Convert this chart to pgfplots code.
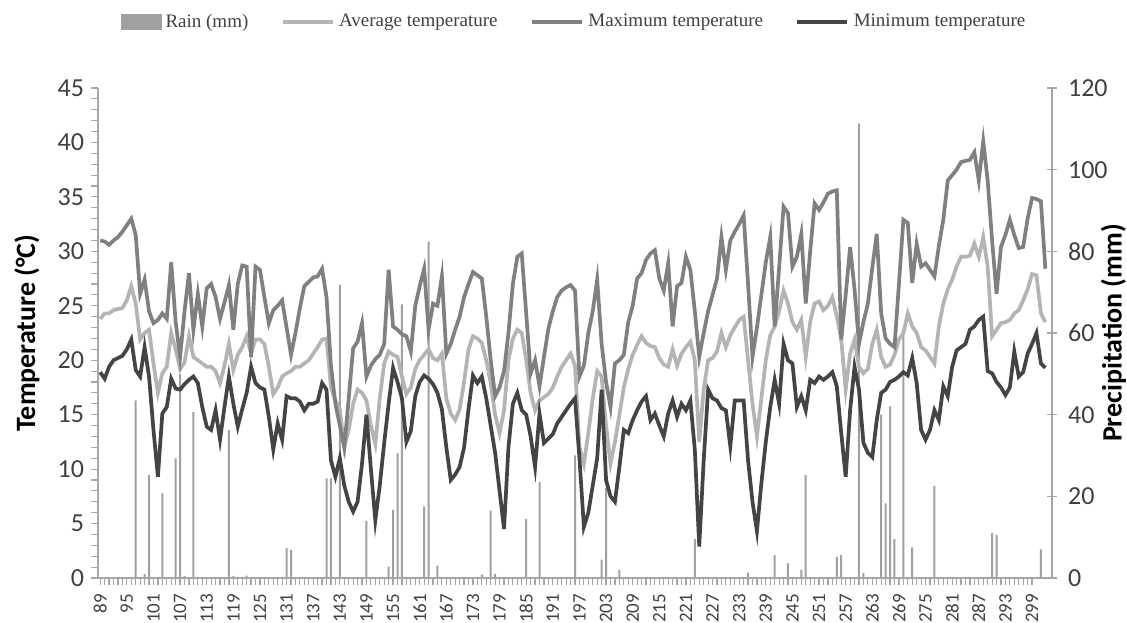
\documentclass[border=0pt]{standalone}
\usepackage{fontspec}
\setmainfont{Carlito}
\newfontfamily\legendfont{Liberation Serif}
\usepackage{pgfplots}
\usepackage{pgfplotstable}
\pgfplotsset{compat=1.18}
\usetikzlibrary{calc}
\definecolor{maxc}{HTML}{808080}
\definecolor{avgc}{HTML}{B4B4B4}
\definecolor{minc}{HTML}{444444}
\definecolor{rainc}{HTML}{A0A0A0}
\definecolor{axc}{HTML}{A6A6A6}
\definecolor{tlc}{HTML}{404040}

\pgfplotstableread{
day max avg min
89 31.0 23.8 18.9
90 30.9 24.3 18.3
91 30.6 24.3 19.4
92 31.0 24.6 20.0
93 31.3 24.7 20.2
94 31.8 24.8 20.4
95 32.4 25.5 21.0
96 33.0 26.8 21.9
97 31.5 25.2 19.1
98 26.1 21.9 18.5
99 27.4 22.5 21.2
100 24.5 22.8 18.5
101 23.4 19.7 13.6
102 23.7 17.0 9.3
103 24.3 18.8 15.1
104 23.8 19.4 15.7
105 29.0 22.5 18.3
106 23.5 21.0 17.4
107 20.3 19.2 17.3
108 24.5 19.8 17.8
109 28.0 22.2 18.2
110 22.8 20.3 18.5
111 26.1 20.0 17.9
112 23.1 19.7 15.7
113 26.6 19.4 13.9
114 27.0 19.4 13.6
115 25.8 19.0 15.4
116 23.8 17.9 12.7
117 25.3 19.5 15.7
118 26.9 21.5 18.5
119 22.8 19.1 16.0
120 27.0 20.5 13.9
121 28.7 21.2 15.5
122 28.6 22.2 17.0
123 20.3 20.6 19.4
124 28.6 21.9 17.9
125 28.3 21.9 17.5
126 25.8 21.5 17.3
127 23.4 19.4 14.8
128 24.6 16.9 11.8
129 25.0 17.5 14.2
130 25.5 18.5 12.7
131 23.0 18.8 16.7
132 20.5 19.0 16.5
133 22.5 19.4 16.5
134 24.8 19.4 16.2
135 26.8 19.7 15.4
136 27.2 20.0 16.0
137 27.6 20.6 16.0
138 27.7 21.2 16.2
139 28.4 21.9 17.9
140 25.8 22.0 17.3
141 19.5 17.5 10.8
142 16.0 16.3 9.3
143 14.0 15.5 11.0
144 12.0 12.0 8.5
145 16.5 13.6 7.0
146 21.1 16.0 6.1
147 21.7 17.3 7.0
148 23.4 17.0 10.5
149 18.5 16.3 15.0
150 19.5 14.0 10.0
151 20.1 12.3 5.3
152 20.5 16.5 8.5
153 21.5 19.7 12.4
154 28.3 20.8 16.0
155 23.1 20.5 19.3
156 22.8 20.3 18.0
157 22.4 18.5 16.5
158 22.2 16.9 12.5
159 20.8 17.5 13.5
160 25.0 19.2 16.7
161 26.8 20.0 18.0
162 28.4 20.5 18.6
163 22.8 21.0 18.3
164 25.2 20.2 17.8
165 25.0 20.0 17.0
166 27.7 20.6 15.5
167 20.6 16.5 12.0
168 21.5 15.1 9.0
169 22.8 14.5 9.5
170 24.0 15.5 10.2
171 25.8 18.0 12.0
172 27.0 21.0 15.5
173 28.1 22.2 18.6
174 27.8 22.0 17.9
175 27.5 21.6 18.5
176 24.0 20.0 16.5
177 20.0 17.9 14.0
178 16.7 15.0 11.5
179 17.5 13.3 8.0
180 19.0 15.4 4.5
181 22.5 20.0 12.0
182 27.0 22.0 16.0
183 29.5 22.8 17.0
184 29.8 22.5 15.4
185 24.3 20.0 15.0
186 18.8 17.0 13.0
187 20.0 15.4 10.2
188 17.6 16.3 15.1
189 20.3 16.6 12.4
190 22.9 16.9 12.8
191 24.5 17.5 13.2
192 25.8 18.5 14.2
193 26.4 19.4 14.8
194 26.7 20.0 15.4
195 26.9 20.6 16.0
196 26.4 19.5 16.5
197 18.5 12.0 11.0
198 19.5 10.5 4.7
199 22.5 13.3 6.0
200 24.5 16.5 8.5
201 27.4 19.0 11.0
202 21.5 18.5 17.3
203 18.0 14.0 9.0
204 15.7 10.5 7.5
205 19.7 12.5 7.0
206 20.0 15.0 10.2
207 20.5 17.5 13.6
208 23.5 19.2 13.3
209 25.0 20.5 14.5
210 27.5 21.4 15.4
211 28.0 22.2 16.2
212 29.2 21.6 16.7
213 29.8 21.3 14.5
214 30.1 21.2 15.1
215 27.5 20.2 14.0
216 26.4 19.6 13.0
217 28.9 19.4 15.1
218 23.1 21.0 16.3
219 26.8 19.5 14.8
220 27.1 20.6 16.0
221 29.5 21.2 15.4
222 28.3 21.7 16.3
223 24.5 20.0 11.8
224 20.3 12.5 2.9
225 22.5 17.3 10.8
226 24.5 20.0 17.3
227 26.0 20.2 16.5
228 27.5 20.8 16.3
229 31.3 22.5 15.6
230 28.3 21.2 15.4
231 31.0 22.3 12.1
232 31.8 23.0 16.3
233 32.5 23.7 16.3
234 33.3 24.0 16.3
235 27.0 20.0 10.8
236 20.3 16.0 7.0
237 23.0 13.0 4.3
238 26.0 16.5 8.7
239 29.0 20.0 12.5
240 31.3 22.3 15.7
241 23.1 23.1 18.2
242 28.5 24.5 16.0
243 34.1 26.4 21.5
244 33.5 25.2 20.0
245 28.6 23.5 19.7
246 29.5 22.8 15.7
247 31.6 23.7 16.7
248 25.2 20.3 15.4
249 30.0 23.5 18.2
250 34.4 25.2 17.9
251 33.8 25.4 18.5
252 34.5 24.6 18.2
253 35.3 25.0 18.5
254 35.5 25.8 18.9
255 35.6 24.0 17.6
256 21.9 21.9 13.3
257 26.0 17.3 9.3
258 30.4 20.6 15.4
259 26.5 21.9 19.4
260 21.5 19.4 17.3
261 23.5 18.8 12.4
262 25.2 19.2 11.5
263 28.5 21.5 11.1
264 31.6 22.8 14.5
265 24.3 20.3 17.0
266 22.0 19.4 17.3
267 21.5 19.6 18.0
268 21.2 20.5 18.2
269 27.0 21.9 18.5
270 32.9 22.5 18.9
271 32.6 24.3 18.6
272 27.1 23.1 20.2
273 30.7 22.5 17.9
274 28.6 21.2 13.6
275 28.9 20.9 12.7
276 28.3 20.3 13.6
277 27.7 19.7 15.4
278 30.5 23.1 14.5
279 32.9 25.2 17.6
280 36.5 26.5 16.7
281 37.0 27.4 19.4
282 37.5 28.6 20.9
283 38.2 29.5 21.2
284 38.3 29.5 21.5
285 38.4 29.6 22.8
286 39.1 30.7 23.1
287 36.5 29.5 23.7
288 40.1 31.3 24.0
289 36.5 28.6 19.0
290 31.0 22.2 18.8
291 26.1 22.8 18.0
292 30.4 23.4 17.5
293 31.5 23.5 16.8
294 32.9 23.7 17.5
295 31.5 24.3 20.8
296 30.3 24.6 18.5
297 30.4 25.5 18.9
298 33.0 26.5 20.6
299 34.9 27.9 21.5
300 34.8 27.8 22.5
301 34.6 24.3 19.7
302 28.4 23.5 19.3
}\temps

\pgfplotstableread{
day rain
97 43.5
99 1.0
100 25.2
103 20.7
106 29.3
107 50.0
108 0.5
110 40.7
118 36.2
119 0.5
122 0.6
131 7.3
132 6.9
140 24.4
141 24.4
143 71.8
149 14.0
154 2.8
155 16.7
156 30.5
157 67.0
162 17.5
163 82.4
165 3.0
175 0.8
177 16.5
178 1.0
185 14.5
188 23.5
196 30.0
202 4.5
203 22.0
206 2.0
223 9.5
235 1.3
241 5.6
244 3.6
247 2.0
248 25.2
255 5.2
256 5.6
260 111.3
261 1.2
265 40.0
266 18.3
267 42.0
268 9.5
270 60.0
272 7.5
277 22.5
290 11.0
291 10.5
301 7.0
}\rain

\begin{document}
\begin{tikzpicture}
\begin{axis}[
  name=rainax,
  scale only axis, width=477pt, height=245pt,
  xmin=88.5, xmax=303.5, ymin=0, ymax=120,
  axis x line=none, axis y line*=right,
  ytick={0,20,...,120},
  tick align=center, major tick length=5pt,
  y axis line style={draw=axc, line width=0.8pt},
  ytick style={draw=axc, line width=0.8pt},
  /pgf/number format/assume math mode=true,
  yticklabel style={font=\fontsize{13}{15}\selectfont, text=tlc, anchor=west, xshift=2pt},
  ylabel={Precipitation (mm)},
  ylabel style={font=\bfseries\fontsize{14}{16}\selectfont, at={(axis description cs:1.0645,0.5)}, anchor=center},
  ybar, bar width=1pt,
]
\addplot[fill=rainc, draw=none] table[x=day,y=rain]{\rain};
\end{axis}
\begin{axis}[
  name=tax,
  scale only axis, width=477pt, height=245pt,
  xmin=88.5, xmax=303.5, ymin=0, ymax=45,
  axis x line*=bottom, axis y line*=left,
  xtick={89,95,...,299}, minor x tick num=5,
  ytick={0,5,...,45}, minor y tick num=4,
  tick align=outside, major tick length=3.5pt, minor tick length=3.5pt,
  x axis line style={draw=axc, line width=0.8pt, -},
  y axis line style={draw=axc, line width=0.8pt, -},
  every tick/.style={draw=axc, line width=0.6pt},
  every minor tick/.style={draw=axc, line width=0.6pt},
  /pgf/number format/assume math mode=true,
  /pgf/number format/1000 sep={},
  xticklabel style={rotate=90, anchor=east, font=\fontsize{9.5}{11}\selectfont, text=tlc, xshift=-1pt},
  yticklabel style={font=\fontsize{13}{15}\selectfont, text=tlc},
  ylabel={Temperature (°C)},
  ylabel style={font=\bfseries\fontsize{14}{16}\selectfont, at={(axis description cs:-0.0744,0.5)}, anchor=center},
  legend columns=4,
  legend style={at={(axis description cs:0.5,1.1347)}, anchor=center, draw=none, fill=none,
    font=\legendfont\fontsize{9.5}{11}\selectfont, text=tlc,
    /tikz/every even column/.append style={column sep=14pt}},
  legend image code/.code={\draw[#1, line width=2.4pt] (0pt,0pt) -- (25pt,0pt);},
]
\addlegendimage{legend image code/.code={\fill[rainc] (0pt,-3.8pt) rectangle (20pt,3.8pt);}}
\addlegendentry{Rain (mm)}
\addplot[avgc, line width=1.85pt] table[x=day,y=avg]{\temps};
\addlegendentry{Average temperature}
\addplot[maxc, line width=1.85pt] table[x=day,y=max]{\temps};
\addlegendentry{Maximum temperature}
\addplot[minc, line width=1.85pt] table[x=day,y=min]{\temps};
\addlegendentry{Minimum temperature}
\end{axis}
\pgfresetboundingbox
\path[use as bounding box] ($(tax.south west)+(-49pt,-22.5pt)$) rectangle ($(tax.north east)+(37.5pt,44pt)$);
\end{tikzpicture}
\end{document}
